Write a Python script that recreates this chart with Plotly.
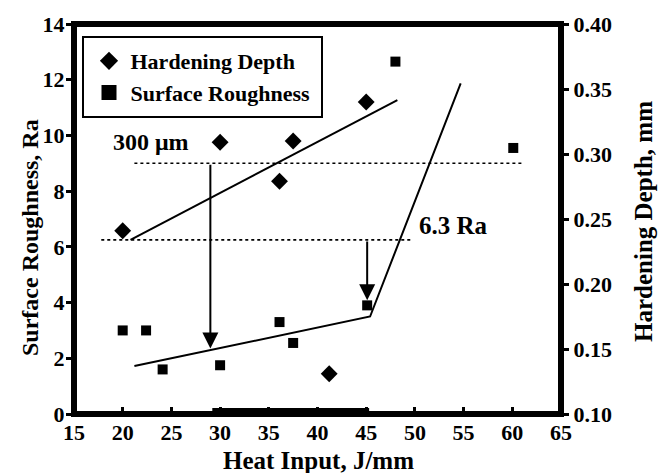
import plotly.graph_objects as go

# ---- data ----
hd_x = [20.0, 30.0, 36.1, 37.5, 45.0, 41.2]          # Heat input, J/mm
hd_y = [0.241, 0.309, 0.279, 0.310, 0.340, 0.131]    # Hardening depth, mm

sr_x = [20.0, 22.4, 24.1, 30.0, 36.1, 37.5, 45.1, 48.0, 60.1]   # Heat input, J/mm
sr_y = [3.0, 3.0, 1.6, 1.75, 3.3, 2.55, 3.9, 12.65, 9.55]     # Surface roughness, Ra

hd_fit_x = [20.8, 48.2]
hd_fit_y = [0.234, 0.3415]

sr_fit_x = [21.2, 45.4, 54.7]
sr_fit_y = [1.72, 3.5, 11.87]

limit_300_x = [21.2, 61.1]
limit_300_y = [9.0, 9.0]
limit_63_x = [17.8, 49.7]
limit_63_y = [6.25, 6.25]

arrow_x = [29.0, 45.1]
arrow_from = [9.0, 6.25]
arrow_to = [2.35, 4.08]

range_bar_x = [29.2, 45.3]

FONT = "Liberation Serif, Times New Roman, serif"
BOLD = dict(family=FONT, color="black", weight="bold")

L, R, T, B = 74, 100, 24, 59
W, H = 661, 473
pw, ph = W - L - R, H - T - B


def px2paper(xp, yp):
    return (xp - L) / pw, (H - B - yp) / ph


fig = go.Figure()

# data
fig.add_trace(go.Scatter(x=hd_x, y=hd_y, mode="markers", yaxis="y2",
                         marker=dict(symbol="diamond", size=13, color="black"),
                         showlegend=False))
fig.add_trace(go.Scatter(x=sr_x, y=sr_y, mode="markers",
                         marker=dict(symbol="square", size=10, color="black"),
                         showlegend=False))
# fits
fig.add_trace(go.Scatter(x=hd_fit_x, y=hd_fit_y, mode="lines", yaxis="y2",
                         line=dict(color="black", width=2), showlegend=False))
fig.add_trace(go.Scatter(x=sr_fit_x, y=sr_fit_y, mode="lines",
                         line=dict(color="black", width=2), showlegend=False))
# dotted limits
fig.add_trace(go.Scatter(x=limit_300_x, y=limit_300_y, mode="lines",
                         line=dict(color="black", width=1.6, dash="dot"), showlegend=False))
fig.add_trace(go.Scatter(x=limit_63_x, y=limit_63_y, mode="lines",
                         line=dict(color="black", width=1.6, dash="dot"), showlegend=False))

# legend entries
fig.add_trace(go.Scatter(x=[None], y=[None], mode="markers", name="Hardening Depth",
                         marker=dict(symbol="diamond", size=14, color="black")))
fig.add_trace(go.Scatter(x=[None], y=[None], mode="markers", name="Surface Roughness",
                         marker=dict(symbol="square", size=15, color="black")))

for xa, y0, y1 in zip(arrow_x, arrow_from, arrow_to):
    fig.add_annotation(x=xa, y=y1, ax=xa, ay=y0, xref="x", yref="y", axref="x", ayref="y",
                       showarrow=True, arrowhead=2, arrowsize=1.6, arrowwidth=2,
                       arrowcolor="black", text="")

fig.add_annotation(x=22.9, y=9.75, xref="x", yref="y", text="300 μm", showarrow=False,
                   font=dict(size=24, **BOLD))
fig.add_annotation(x=54.0, y=6.75, xref="x", yref="y", text="6.3 Ra", showarrow=False,
                   font=dict(size=25, **BOLD))

# axis titles (positioned like the reference, in pixels -> paper)
for text, xp, yp, ang, fs in [("Surface Roughness, Ra", 30, 238, -90, 24),
                              ("Hardening Depth, mm", 643, 222, -90, 25),
                              ("Heat Input, J/mm", 318, 460, 0, 25)]:
    ax_, ay_ = px2paper(xp, yp)
    fig.add_annotation(x=ax_, y=ay_, xref="paper", yref="paper", text=text,
                       textangle=ang, showarrow=False, xanchor="center", yanchor="middle",
                       font=dict(size=fs, **BOLD))

# plot frame
fig.add_shape(type="rect", xref="paper", yref="paper", x0=0, x1=1, y0=0, y1=1,
              line=dict(color="black", width=6), fillcolor="rgba(0,0,0,0)", layer="above")

# heat-input range bar sitting on the x axis
_, bar_y0 = px2paper(0, 417)
_, bar_y1 = px2paper(0, 408)
fig.add_shape(type="rect", xref="x", yref="paper", x0=range_bar_x[0], x1=range_bar_x[1],
              y0=bar_y0, y1=bar_y1, line=dict(width=0), fillcolor="black", layer="above")

# legend frame
lx0, ly1 = px2paper(83, 37)
lx1, ly0 = px2paper(322, 117)
fig.add_shape(type="rect", xref="paper", yref="paper", x0=lx0, x1=lx1, y0=ly0, y1=ly1,
              line=dict(color="black", width=2), fillcolor="white", layer="below")
legx, legy = px2paper(87.5, 40)

axis_common = dict(showgrid=False, zeroline=False, showline=False, automargin=False,
                   tickcolor="black", tickwidth=3,
                   tickfont=dict(size=22, **BOLD))

fig.update_layout(
    width=W, height=H,
    margin=dict(l=L, r=R, t=T, b=B, autoexpand=False),
    paper_bgcolor="white", plot_bgcolor="white",
    font=dict(family=FONT, color="black"),
    xaxis=dict(range=[15, 65], tick0=15, dtick=5, ticks="inside", ticklen=7,
               ticklabelstandoff=3, **axis_common),
    yaxis=dict(range=[0, 14], dtick=2, ticks="outside", ticklen=7,
               ticklabelstandoff=-3, **axis_common),
    yaxis2=dict(range=[0.10, 0.40], dtick=0.05, tickformat=".2f", overlaying="y", side="right",
                ticks="outside", ticklen=7, **axis_common),
    legend=dict(x=legx, y=legy, xanchor="left", yanchor="top",
                bgcolor="rgba(0,0,0,0)", borderwidth=0, itemwidth=33,
                font=dict(size=22, **BOLD)),
)

fig.write_html("out.html")
